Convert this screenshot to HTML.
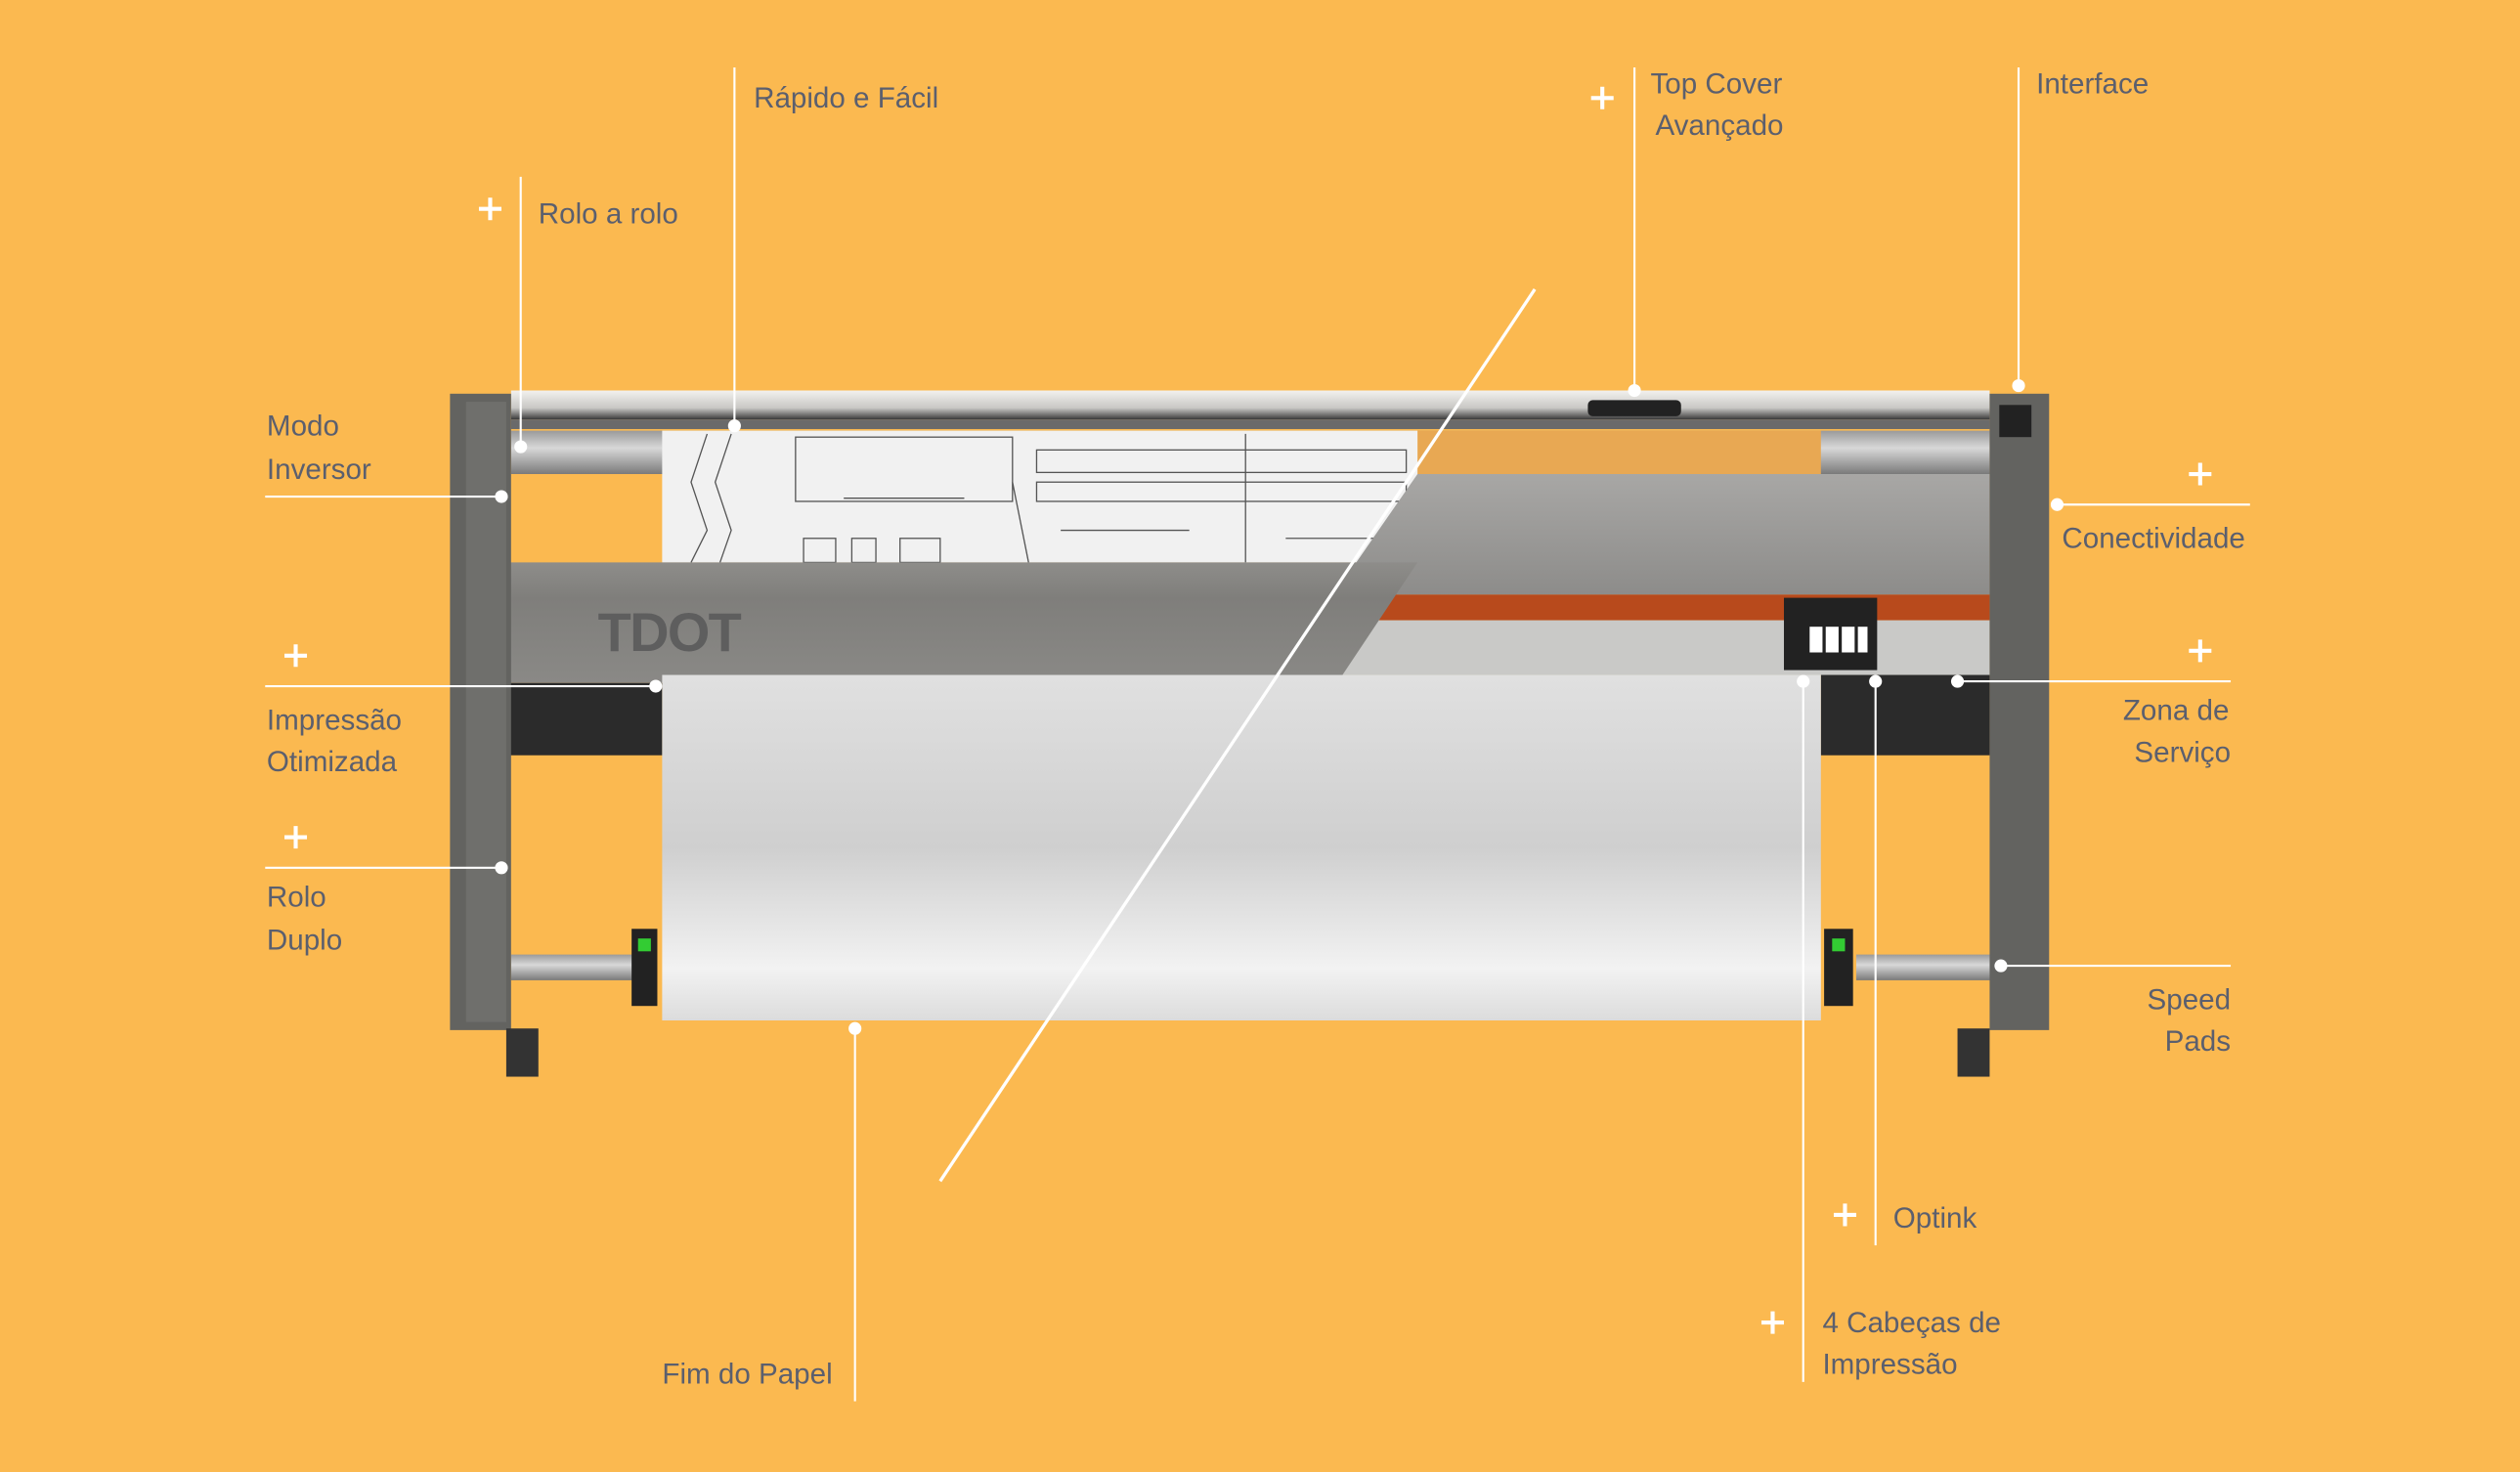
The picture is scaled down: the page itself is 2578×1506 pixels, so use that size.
<!DOCTYPE html>
<html><head><meta charset="utf-8"><style>
html,body{margin:0;padding:0;background:#FBB950;}
svg{display:block;}
text{font-family:"Liberation Sans",sans-serif;font-size:18px;fill:#5b5f6e;}
</style></head><body>
<svg width="2578" height="1506" viewBox="0 0 1568 916" preserveAspectRatio="none" xmlns="http://www.w3.org/2000/svg">
<defs>
<linearGradient id="paper" x1="0" y1="0" x2="0" y2="1">
<stop offset="0" stop-color="#e0e0e0"/><stop offset="0.5" stop-color="#cfcfcf"/><stop offset="0.85" stop-color="#f2f2f2"/><stop offset="1" stop-color="#dcdcdc"/></linearGradient>
<linearGradient id="cover" x1="0" y1="0" x2="0" y2="1">
<stop offset="0" stop-color="#8e8d8a"/><stop offset="0.3" stop-color="#7f7e7b"/><stop offset="1" stop-color="#8a8986"/></linearGradient>
<linearGradient id="cover2" x1="0" y1="0" x2="0" y2="1">
<stop offset="0" stop-color="#a8a7a5"/><stop offset="1" stop-color="#8d8c8a"/></linearGradient>
<linearGradient id="bar" x1="0" y1="0" x2="0" y2="1">
<stop offset="0" stop-color="#f2f1ee"/><stop offset="0.6" stop-color="#c9c8c5"/><stop offset="1" stop-color="#3a3a3a"/></linearGradient>
<linearGradient id="roll" x1="0" y1="0" x2="0" y2="1">
<stop offset="0" stop-color="#9a9a9a"/><stop offset="0.4" stop-color="#d8d8d8"/><stop offset="1" stop-color="#7a7a7a"/></linearGradient>
</defs>
<rect width="1568" height="916" fill="#FBB950"/>
<!-- top bar -->
<rect x="318" y="243" width="920" height="18" fill="url(#bar)"/>
<rect x="318" y="261" width="920" height="6" fill="#6a6a6a"/>
<rect x="988" y="249" width="58" height="10" rx="3" fill="#222"/>
<!-- roll -->
<rect x="318" y="268" width="920" height="27" fill="url(#roll)"/>
<rect x="880" y="268" width="253" height="28" fill="#e8a853"/>
<!-- drawing paper -->
<rect x="412" y="268" width="470" height="82" fill="#f1f1f1"/>
<g stroke="#555" stroke-width="0.8" fill="none">
<path d="M440 270 L430 300 L440 330 L430 350"/><path d="M455 270 L445 300 L455 330 L448 350"/>
<rect x="495" y="272" width="135" height="40"/><rect x="645" y="280" width="230" height="14"/><rect x="645" y="300" width="230" height="12"/>
<path d="M525 310 L600 310"/><path d="M660 330 L740 330"/><path d="M800 335 L860 335"/>
<rect x="500" y="335" width="20" height="15"/><rect x="530" y="335" width="15" height="15"/><rect x="560" y="335" width="25" height="15"/>
<path d="M775 270 L775 350"/><path d="M630 300 L640 350"/>
</g>
<!-- right side of diagonal upper -->
<polygon points="882,295 1238,295 1238,370 830,370" fill="url(#cover2)"/>
<polygon points="830,370 1238,370 1238,386 818,386" fill="#b84a1c"/>
<polygon points="818,386 1238,386 1238,420 796,420" fill="#c9c9c7"/>
<rect x="1110" y="372" width="58" height="45" fill="#222"/>
<rect x="1126" y="390" width="8" height="16" fill="#fff"/><rect x="1136" y="390" width="8" height="16" fill="#fff"/><rect x="1146" y="390" width="8" height="16" fill="#fff"/><rect x="1156" y="390" width="6" height="16" fill="#fff"/>
<!-- left cover -->
<polygon points="315,350 882,350 832,425 315,425" fill="url(#cover)"/>
<text x="372" y="405" style="font-size:34px;fill:#5e5e5e;font-weight:bold;letter-spacing:-1px">TDOT</text>
<!-- black bands -->
<rect x="315" y="425" width="97" height="45" fill="#2b2b2b"/>
<rect x="1133" y="420" width="105" height="50" fill="#2b2b2b"/>
<!-- white paper -->
<rect x="412" y="420" width="721" height="215" fill="url(#paper)"/>
<!-- lower rolls -->
<rect x="318" y="594" width="80" height="16" fill="url(#roll)"/>
<rect x="1155" y="594" width="85" height="16" fill="url(#roll)"/>
<rect x="393" y="578" width="16" height="48" fill="#222"/><rect x="1135" y="578" width="18" height="48" fill="#222"/>
<rect x="397" y="584" width="8" height="8" fill="#3c3"/><rect x="1140" y="584" width="8" height="8" fill="#3c3"/>
<!-- pillars -->
<rect x="280" y="245" width="38" height="396" fill="#636360"/>
<rect x="290" y="250" width="25" height="386" fill="#6f6f6c"/>
<rect x="1238" y="245" width="37" height="396" fill="#636360"/>
<rect x="1244" y="252" width="20" height="20" fill="#222"/>
<rect x="315" y="640" width="20" height="30" fill="#333"/><rect x="1218" y="640" width="20" height="30" fill="#333"/>
<!-- diagonal -->
<line x1="955" y1="180" x2="585" y2="735" stroke="#fff" stroke-width="2"/>
<!-- connectors -->
<g stroke="#fff" stroke-width="1.3" fill="none">
<line x1="324" y1="110" x2="324" y2="278"/>
<line x1="457" y1="42" x2="457" y2="265"/>
<line x1="1017" y1="42" x2="1017" y2="243"/>
<line x1="1256" y1="42" x2="1256" y2="240"/>
<line x1="165" y1="309" x2="312" y2="309"/>
<line x1="1280" y1="314" x2="1400" y2="314"/>
<line x1="165" y1="427" x2="408" y2="427"/>
<line x1="1218" y1="424" x2="1388" y2="424"/>
<line x1="165" y1="540" x2="312" y2="540"/>
<line x1="1245" y1="601" x2="1388" y2="601"/>
<line x1="532" y1="640" x2="532" y2="872"/>
<line x1="1167" y1="424" x2="1167" y2="775"/>
<line x1="1122" y1="424" x2="1122" y2="860"/>
</g>
<g fill="#fff">
<circle cx="324" cy="278" r="4"/><circle cx="457" cy="265" r="4"/><circle cx="1017" cy="243" r="4"/><circle cx="1256" cy="240" r="4"/>
<circle cx="312" cy="309" r="4"/><circle cx="1280" cy="314" r="4"/><circle cx="408" cy="427" r="4"/><circle cx="1218" cy="424" r="4"/>
<circle cx="312" cy="540" r="4"/><circle cx="1245" cy="601" r="4"/><circle cx="532" cy="640" r="4"/><circle cx="1167" cy="424" r="4"/><circle cx="1122" cy="424" r="4"/>
</g>
<!-- plus signs -->
<g stroke="#fff" stroke-width="2.5">
<path d="M298 130h14M305 123v14"/><path d="M990 61h14M997 54v14"/><path d="M1362 295h14M1369 288v14"/>
<path d="M177 408h14M184 401v14"/><path d="M1362 405h14M1369 398v14"/><path d="M177 521h14M184 514v14"/>
<path d="M1141 756h14M1148 749v14"/><path d="M1096 823h14M1103 816v14"/>
</g>
<!-- labels -->
<text x="469" y="67">Rápido e Fácil</text>
<text x="335" y="139">Rolo a rolo</text>
<text x="1027" y="58">Top Cover</text><text x="1030" y="84">Avançado</text>
<text x="1267" y="58">Interface</text>
<text x="166" y="271">Modo</text><text x="166" y="298">Inversor</text>
<text x="1283" y="341">Conectividade</text>
<text x="166" y="454">Impressão</text><text x="166" y="480">Otimizada</text>
<text x="1387" y="448" text-anchor="end">Zona de</text><text x="1388" y="474" text-anchor="end">Serviço</text>
<text x="166" y="564">Rolo</text><text x="166" y="591">Duplo</text>
<text x="1388" y="628" text-anchor="end">Speed</text><text x="1388" y="654" text-anchor="end">Pads</text>
<text x="1178" y="764">Optink</text>
<text x="1134" y="829">4 Cabeças de</text><text x="1134" y="855">Impressão</text>
<text x="412" y="861">Fim do Papel</text>
</svg>
</body></html>
